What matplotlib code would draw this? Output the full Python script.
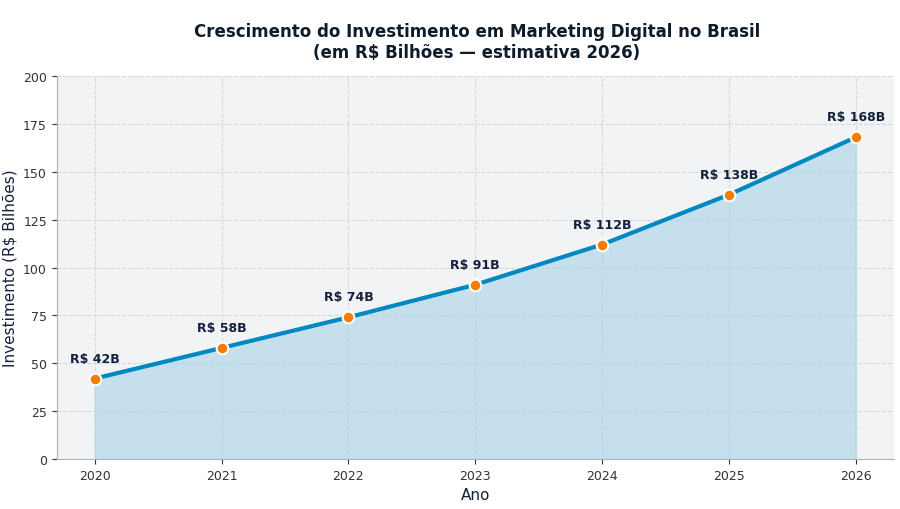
import matplotlib.pyplot as plt

anos = [2020, 2021, 2022, 2023, 2024, 2025, 2026]
investimento = [42, 58, 74, 91, 112, 138, 168]
rotulos = ["R$ 42B", "R$ 58B", "R$ 74B", "R$ 91B", "R$ 112B", "R$ 138B", "R$ 168B"]

fig = plt.figure(figsize=(9, 5.1), dpi=100)
ax = fig.add_axes([0.063, 0.098, 0.93, 0.751])
ax.set_facecolor("#f1f3f5")

ax.fill_between(anos, investimento, color="#a8d4e6", alpha=0.6, zorder=1)
ax.plot(anos, investimento, color="#0088c2", linewidth=3, zorder=2)
ax.scatter(anos, investimento, s=70, color="#f57c00", edgecolor="white", linewidth=1.5, zorder=3)

for x, y, t in zip(anos, investimento, rotulos):
    ax.annotate(t, (x, y), xytext=(0, 10), textcoords="offset points", ha="center",
                va="bottom", fontsize=9, fontweight="bold", color="#14213d")

ax.set_xlim(2019.7, 2026.3)
ax.set_ylim(0, 200)
ax.set_yticks(range(0, 201, 25))
ax.set_xticks(anos)
ax.grid(True, linestyle="--", color="#d5d8dc", linewidth=0.8)
ax.set_axisbelow(True)
for s in ["top", "right"]:
    ax.spines[s].set_visible(False)
for s in ["left", "bottom"]:
    ax.spines[s].set_color("#b0b4b8")
ax.tick_params(colors="#333333", labelsize=9)

ax.set_xlabel("Ano", fontsize=11, color="#14213d")
ax.set_ylabel("Investimento (R$ Bilhões)", fontsize=11, color="#14213d")
fig.suptitle("Crescimento do Investimento em Marketing Digital no Brasil\n(em R$ Bilhões — estimativa 2026)",
             fontsize=12, fontweight="bold", color="#0d1b2a", y=0.955, x=0.53)

fig.savefig("out.png")
